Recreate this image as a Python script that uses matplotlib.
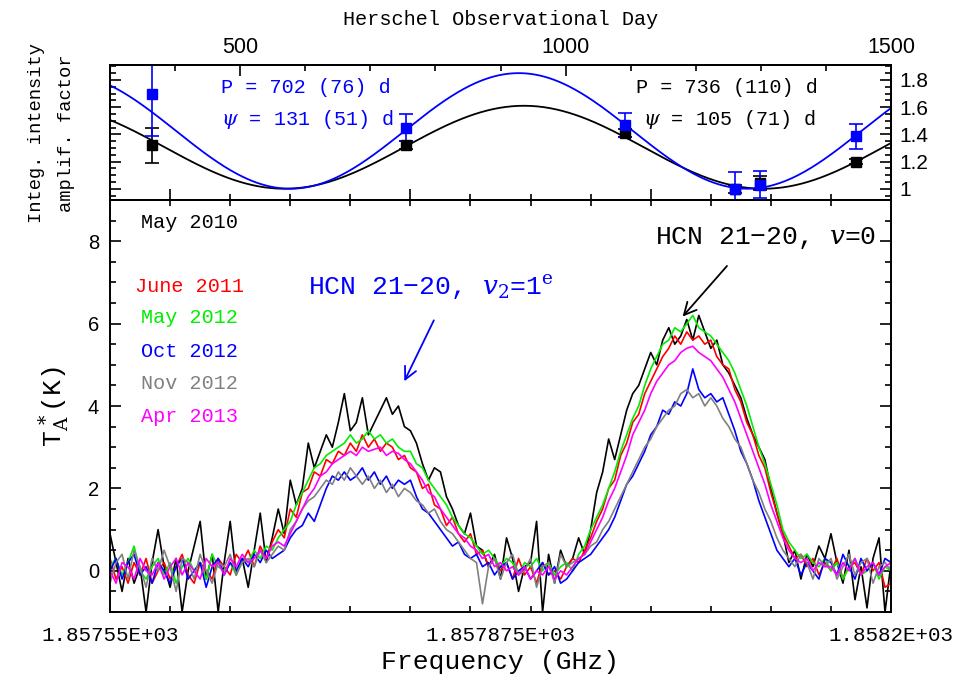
import numpy as np
import matplotlib.pyplot as plt
from matplotlib.ticker import MultipleLocator, FixedLocator, FixedFormatter, FormatStrFormatter

plt.rcParams['mathtext.fontset'] = 'dejavuserif'
MONO = 'Liberation Mono'
SANS = 'Liberation Sans'

# --- integrated intensity amplification vs Herschel day -------------------
obs_day = [365, 755, 1092, 1260, 1298, 1446]
amp_v2 = [1.70, 1.45, 1.47, 1.00, 1.03, 1.385]
err_v2 = [0.31, 0.10, 0.09, 0.12, 0.10, 0.09]
amp_v0 = [1.32, 1.32, 1.41, 1.00, 1.04, 1.20]
err_v0 = [0.13, 0.03, 0.03, 0.03, 0.05, 0.02]

# sinusoidal fits: period P and phase psi (days), minimum and amplitude
fit_P = {'v2': 702, 'v0': 736}
fit_psi = {'v2': 131, 'v0': 105}
fit_min = {'v2': 1.0, 'v0': 1.0}
fit_amp = {'v2': 0.85, 'v0': 0.61}
day_ref = 95

# --- spectra, 0.005 GHz channels from 1857.55 to 1858.20 GHz ---------------
freq = np.linspace(1857.55, 1858.20, 131)

spec_may2010 = [
    0.9, 0.2, -0.5, 0.3, -0.3, 0.1, -1.0, 0.2, 1.0, 0.1,
    -0.4, 0.3, -1.0, 0.0, 0.6, 1.2, -0.2, 0.4, -1.0, 0.2,
    1.2, -0.1, 0.3, -0.4, 0.5, 1.4, 0.2, 0.8, 1.5, 0.9,
    2.2, 1.6, 2.0, 3.1, 2.5, 2.9, 3.3, 3.0, 3.6, 4.3,
    3.4, 3.6, 4.2, 3.3, 3.6, 3.9, 4.2, 3.8, 4.0, 3.5,
    3.4, 3.1, 2.6, 2.2, 2.5, 2.4, 1.8, 1.5, 1.1, 0.9,
    1.4, 0.6, 0.5, 0.1, 0.4, -0.2, 0.8, 0.3, -0.5, 0.1,
    0.2, 1.2, -1.0, 0.4, -0.3, 0.5, 0.1, 0.3, 0.8, 0.4,
    1.0, 1.9, 2.4, 3.2, 2.7, 3.3, 3.9, 4.3, 4.5, 4.9,
    5.3, 5.0, 5.6, 5.9, 5.5, 5.7, 6.1, 5.6, 6.2, 5.8,
    5.4, 5.6, 5.0, 4.8, 4.5, 4.2, 3.7, 3.3, 3.0, 2.7,
    2.0, 1.4, 0.9, 0.2, 0.5, -0.2, 0.4, 0.1, 0.6, 0.3,
    0.9, 0.2, -0.3, 0.5, -0.7, 0.1, -0.9, 0.3, 0.8, -1.0,
    0.2]
spec_jun2011 = [
    0.3, -0.2, 0.1, -0.3, 0.2, -0.1, 0.3, -0.3, 0.0, 0.2,
    -0.2, 0.1, 0.4, -0.1, -0.3, 0.2, 0.0, -0.2, 0.3, 0.1,
    -0.1, 0.4, 0.2, 0.5, 0.1, 0.6, 0.3, 0.7, 1.0, 0.8,
    1.5, 1.3, 1.9, 2.0, 2.4, 2.3, 2.7, 2.6, 2.9, 2.8,
    3.1, 2.9, 3.3, 3.0, 3.2, 2.9, 3.1, 3.0, 2.7, 2.8,
    2.5, 2.4, 2.0, 2.1, 1.6, 1.5, 1.1, 1.3, 0.9, 0.7,
    0.9, 0.4, 0.5, 0.1, 0.3, 0.0, 0.2, -0.2, 0.3, -0.1,
    0.1, -0.3, 0.2, -0.1, 0.0, -0.2, 0.1, 0.3, 0.2, 0.5,
    0.8, 1.2, 1.5, 2.0, 2.2, 2.8, 3.1, 3.6, 3.8, 4.3,
    4.6, 4.9, 5.2, 5.4, 5.7, 5.5, 5.8, 5.6, 5.7, 5.5,
    5.6, 5.2, 5.0, 4.9, 4.4, 4.1, 3.6, 3.3, 2.8, 2.5,
    1.9, 1.4, 0.9, 0.6, 0.3, 0.4, 0.1, 0.3, -0.1, 0.2,
    0.0, 0.3, -0.2, 0.1, 0.2, -0.1, 0.3, 0.0, 0.2, -0.4,
    -0.3]
spec_may2012 = [
    0.1, 0.3, -0.1, 0.2, 0.6, 0.0, -0.2, 0.1, 0.3, -0.1,
    0.2, -0.3, 0.1, 0.3, 0.0, 0.2, -0.2, 0.4, 0.1, 0.0,
    0.2, -0.1, 0.3, 0.2, 0.5, 0.3, 0.6, 0.5, 0.8, 1.0,
    1.2, 1.6, 1.9, 2.2, 2.5, 2.6, 2.8, 2.9, 3.0, 3.1,
    3.3, 3.1, 3.2, 3.4, 3.2, 3.3, 3.1, 3.2, 3.0, 2.9,
    2.9, 2.6, 2.5, 2.2, 2.0, 1.8, 1.6, 1.3, 1.1, 0.9,
    0.8, 0.6, 0.4, 0.5, 0.3, 0.1, 0.3, 0.2, -0.1, 0.2,
    0.1, 0.3, 0.0, 0.2, -0.1, 0.1, 0.2, 0.0, 0.4, 0.6,
    1.0, 1.3, 1.6, 2.0, 2.4, 2.9, 3.3, 3.7, 4.0, 4.5,
    4.9, 5.2, 5.5, 5.6, 5.9, 5.8, 6.0, 6.2, 5.9, 5.8,
    5.7, 5.5, 5.3, 5.1, 4.8, 4.4, 4.0, 3.5, 3.0, 2.6,
    2.1, 1.6, 1.0, 0.7, 0.5, 0.3, 0.4, 0.2, 0.1, 0.3,
    0.0, 0.2, -0.2, 0.1, 0.3, -0.1, 0.0, 0.2, -0.2, 0.1,
    0.0]
spec_oct2012 = [
    0.0, 0.3, -0.2, 0.2, 0.4, -0.1, 0.1, -0.3, 0.2, 0.0,
    -0.3, 0.1, 0.3, -0.2, 0.0, 0.2, -0.4, 0.1, 0.3, -0.1,
    0.2, 0.0, 0.3, 0.1, 0.4, 0.2, 0.5, 0.3, 0.4, 0.5,
    0.8, 1.0, 1.1, 1.4, 1.2, 1.6, 2.0, 2.3, 2.2, 2.4,
    2.2, 2.3, 2.5, 2.2, 2.4, 2.1, 2.3, 2.0, 2.2, 2.1,
    2.2, 1.8, 1.5, 1.4, 1.2, 1.0, 0.8, 0.6, 0.7, 0.4,
    0.3, 0.4, 0.1, 0.2, -0.1, 0.1, 0.2, -0.2, 0.0, 0.1,
    -0.2, 0.0, 0.2, -0.1, 0.1, -0.3, -0.2, 0.0, 0.2, 0.3,
    0.4, 0.6, 0.8, 1.0, 1.3, 1.7, 2.1, 2.3, 2.6, 2.9,
    3.3, 3.5, 3.9, 3.8, 4.1, 4.0, 4.3, 4.9, 4.4, 4.2,
    4.3, 4.1, 4.2, 3.8, 3.4, 2.9, 2.6, 2.2, 1.7, 1.3,
    0.9, 0.5, 0.3, 0.1, 0.3, -0.1, 0.2, 0.0, -0.2, 0.3,
    0.2, -0.1, 0.4, 0.1, -0.2, 0.3, 0.0, 0.2, -0.1, 0.3,
    0.2]
spec_nov2012 = [
    -0.3, 0.2, 0.4, -0.2, 0.5, 0.1, -0.4, 0.3, 0.0, 0.5,
    0.1, -0.5, 0.3, 0.2, -0.2, 0.4, 0.0, -0.3, 0.2, 0.1,
    0.4, -0.1, 0.2, 0.3, 0.1, 0.5, 0.2, 0.4, 0.6, 0.5,
    1.0, 1.2, 1.5, 1.7, 1.8, 2.0, 2.2, 2.1, 2.4, 2.2,
    2.5, 2.3, 2.1, 2.3, 2.0, 2.2, 1.9, 2.1, 1.8, 2.0,
    1.9, 1.7, 1.6, 1.4, 1.5, 1.2, 1.0, 0.9, 0.7, 0.5,
    0.3, 0.2, -0.8, 0.1, 0.3, -0.2, 0.2, 0.4, -0.1, 0.0,
    0.3, -0.4, 0.1, 0.2, -0.3, 0.4, 0.1, 0.2, 0.3, 0.4,
    0.6, 0.7, 1.0, 1.2, 1.5, 1.8, 2.1, 2.4, 2.7, 3.0,
    3.2, 3.5, 3.7, 3.9, 4.0, 4.3, 4.4, 4.2, 4.3, 4.0,
    4.2, 4.0, 3.7, 3.5, 3.2, 3.0, 2.6, 2.2, 1.9, 1.5,
    1.2, 0.8, 0.5, 0.3, 0.1, 0.4, 0.2, -0.2, 0.3, 0.1,
    0.3, -0.2, 0.1, 0.4, -0.1, 0.2, 0.3, -0.3, 0.1, 0.2,
    0.0]
spec_apr2013 = [
    0.0, -0.3, 0.2, 0.1, -0.2, 0.3, 0.0, -0.1, 0.2, -0.2,
    0.1, 0.3, -0.1, 0.2, 0.0, -0.2, 0.3, 0.1, 0.2, -0.1,
    0.3, 0.1, 0.4, 0.2, 0.3, 0.5, 0.3, 0.6, 0.7, 0.6,
    0.9, 1.2, 1.5, 1.8, 2.0, 2.3, 2.4, 2.6, 2.7, 2.8,
    2.9, 2.8, 3.0, 2.9, 2.95, 3.0, 2.8, 2.9, 2.85, 2.7,
    2.6, 2.4, 2.2, 1.9, 1.8, 1.5, 1.3, 1.1, 0.9, 0.8,
    0.6, 0.5, 0.3, 0.4, 0.1, 0.2, 0.0, 0.1, -0.1, 0.1,
    -0.2, 0.0, -0.1, 0.1, -0.2, 0.0, -0.1, 0.1, 0.3, 0.4,
    0.7, 1.0, 1.3, 1.7, 2.0, 2.4, 2.8, 3.3, 3.6, 3.9,
    4.3, 4.6, 4.8, 5.0, 5.1, 5.3, 5.4, 5.45, 5.3, 5.2,
    5.1, 4.9, 4.7, 4.4, 4.1, 3.7, 3.3, 2.9, 2.5, 2.1,
    1.6, 1.2, 0.8, 0.5, 0.3, 0.2, 0.3, 0.0, 0.2, 0.1,
    0.1, -0.1, 0.2, 0.0, 0.3, -0.1, 0.1, 0.2, -0.1, 0.1,
    0.2]

epochs = ['May 2010', 'June 2011', 'May 2012', 'Oct 2012', 'Nov 2012', 'Apr 2013']
spectra = [spec_may2010, spec_jun2011, spec_may2012, spec_oct2012, spec_nov2012, spec_apr2013]
colors = ['black', '#ff0000', '#00ee00', '#0000ff', '#808080', '#ff00ff']


def fit_curve(day, key):
    phase = 2 * np.pi * (day - day_ref - fit_psi[key]) / fit_P[key]
    return fit_min[key] + fit_amp[key] * 0.5 * (1 + np.cos(phase))


def style_axis(a):
    for s in a.spines.values():
        s.set_linewidth(1.4)
    a.tick_params(which='both', direction='in', width=1.2)
    a.tick_params(which='major', length=8)
    a.tick_params(which='minor', length=4.5)


fig = plt.figure(figsize=(9.72, 6.81), dpi=100)
ax_top = fig.add_axes([0.1132, 0.7063, 0.8035, 0.1983])
ax = fig.add_axes([0.1132, 0.1013, 0.8035, 0.6050])

# frequency ticks along the shared edge (twiny first, it moves the day axis)
ax_f = ax_top.twiny()
ax_f.set_xlim(1857.55, 1858.20)
ax_f.xaxis.set_major_locator(FixedLocator([1857.6, 1857.8, 1858.0, 1858.2]))
ax_f.xaxis.set_minor_locator(MultipleLocator(0.05))
style_axis(ax_f)
ax_f.tick_params(axis='x', which='both', top=False, bottom=True,
                 labeltop=False, labelbottom=False)

# ---- top panel ----
days = np.linspace(300, 1500, 500)
ax_top.plot(days, fit_curve(days, 'v0'), color='black', lw=1.3)
ax_top.plot(days, fit_curve(days, 'v2'), color='#0000ff', lw=1.3)
ax_top.errorbar(obs_day, amp_v0, yerr=err_v0, fmt='s', color='black', ms=7,
                capsize=5, elinewidth=1.2, capthick=1.2)
ax_top.errorbar(obs_day, amp_v2, yerr=err_v2, fmt='s', color='#0000ff', ms=7,
                capsize=5, elinewidth=1.2, capthick=1.2)
ax_top.set_xlim(300, 1500)
ax_top.set_ylim(0.917, 1.91)
style_axis(ax_top)
ax_top.xaxis.set_major_locator(MultipleLocator(500))
ax_top.xaxis.set_minor_locator(MultipleLocator(100))
ax_top.xaxis.tick_top()
ax_top.tick_params(axis='x', which='both', top=True, bottom=False,
                   labeltop=True, labelbottom=False, pad=5, labelsize=15.5)
ax_top.yaxis.set_major_locator(MultipleLocator(0.2))
ax_top.yaxis.set_minor_locator(MultipleLocator(0.05))
ax_top.yaxis.set_major_formatter(FormatStrFormatter('%g'))
ax_top.tick_params(axis='y', which='both', left=True, right=True,
                   labelleft=False, labelright=True, labelsize=15, pad=6)
for lab in ax_top.get_xticklabels() + ax_top.get_yticklabels():
    lab.set_family(SANS)
ax_top.xaxis.set_label_position('top')
ax_top.set_xlabel('Herschel Observational Day', family=MONO, fontsize=14.5, labelpad=9)

ax_top.text(0.142, 0.83, 'P = 702 (76) d', transform=ax_top.transAxes,
            family=MONO, fontsize=14.5, color='#0000ff', va='center')
ax_top.text(0.142, 0.593, r'$\psi$ = 131 (51) d', transform=ax_top.transAxes,
            family=MONO, fontsize=14.5, color='#0000ff', va='center')
ax_top.text(0.673, 0.83, 'P = 736 (110) d', transform=ax_top.transAxes,
            family=MONO, fontsize=14.5, color='black', va='center')
ax_top.text(0.682, 0.593, r'$\psi$ = 105 (71) d', transform=ax_top.transAxes,
            family=MONO, fontsize=14.5, color='black', va='center')
fig.text(0.053, 0.805, 'Integ. intensity\namplif. factor', rotation=90,
         family=MONO, fontsize=13.5, ha='center', va='center', linespacing=2.0)

# ---- bottom panel: spectra ----
for spec, col in zip(spectra, colors):
    ax.plot(freq, spec, color=col, lw=1.2)
ax.set_xlim(1857.55, 1858.20)
ax.set_ylim(-1, 9)
style_axis(ax)
ax.xaxis.set_major_locator(FixedLocator([1857.55, 1857.875, 1858.2]))
ax.xaxis.set_major_formatter(FixedFormatter(['1.85755E+03', '1.857875E+03', '1.8582E+03']))
ax.xaxis.set_minor_locator(MultipleLocator(0.05))
ax.yaxis.set_major_locator(MultipleLocator(2))
ax.yaxis.set_minor_locator(MultipleLocator(0.5))
ax.tick_params(axis='x', which='major', length=0, pad=10, labelsize=15)
ax.tick_params(axis='y', labelsize=14.5, pad=8)
ax.tick_params(which='both', top=True, right=True)
for lab in ax.get_xticklabels():
    lab.set_family(MONO)
for lab in ax.get_yticklabels():
    lab.set_family(SANS)
ax.set_xlabel('Frequency (GHz)', family=MONO, fontsize=19, labelpad=4)
ax.set_ylabel(r'T$_{\rm A}^{\,*}$(K)', family=MONO, fontsize=19, labelpad=12)

label_y = [8.45, 6.9, 6.14, 5.32, 4.54, 3.74]
for name, col, yy in zip(epochs, colors, label_y):
    ax.text(1857.6165, yy, name, color=col, family=MONO, fontsize=14.5,
            ha='center', va='center')

ax.annotate('', xy=(1857.7939, 4.54), xytext=(1857.8205, 6.14),
            arrowprops=dict(arrowstyle='->', color='#0000ff', lw=1.3,
                            mutation_scale=22))
ax.text(1857.715, 6.87, 'HCN 21\u221220, $v_2$=1$^{\\rm e}$', color='#0000ff',
        family=MONO, fontsize=19, ha='left', va='center')
ax.annotate('', xy=(1858.025, 6.12), xytext=(1858.065, 7.45),
            arrowprops=dict(arrowstyle='->', color='black', lw=1.3,
                            mutation_scale=22))
ax.text(1858.1875, 8.08, 'HCN 21\u221220, $v$=0', color='black',
        family=MONO, fontsize=19, ha='right', va='center')

fig.savefig('out.png', dpi=100)
